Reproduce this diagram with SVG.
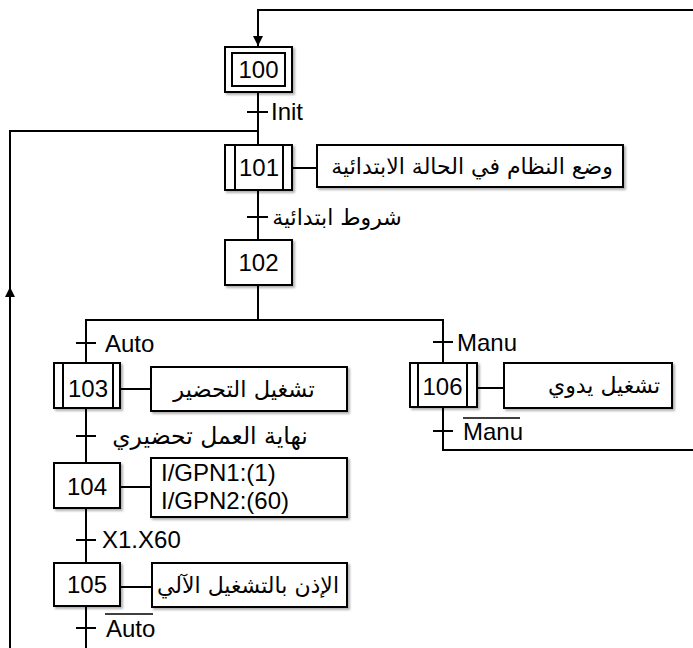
<svg xmlns="http://www.w3.org/2000/svg" width="693" height="648" viewBox="0 0 693 648">
<defs>
<filter id="sh" x="-10%" y="-10%" width="130%" height="140%"><feDropShadow dx="2" dy="2" stdDeviation="1.2" flood-color="#000" flood-opacity="0.3"/></filter>
<marker id="ar" viewBox="0 0 10 10" refX="10" refY="5" markerWidth="12" markerHeight="10" markerUnits="userSpaceOnUse" orient="auto"><path d="M0,0 L10,5 L0,10 z" fill="#000"/></marker>
</defs>
<style>
.b{fill:#fff;stroke:#000;stroke-width:2;filter:url(#sh)}
.l{fill:none;stroke:#000;stroke-width:2}
.t{font-family:"Liberation Sans","DejaVu Sans",sans-serif;font-size:24px;fill:#000}
.a{font-family:"DejaVu Sans","Liberation Sans",sans-serif;font-size:22px;fill:#000}
.o{stroke:#000;stroke-width:1.5}
</style>
<rect width="693" height="648" fill="#fff"/>
<g id="connectors">
<polyline class="l" points="693,10 258,10 258,46" marker-end="url(#ar)"/>
<line class="l" x1="258" y1="92" x2="258" y2="145"/>
<polyline class="l" points="258,131 10,131 10,648"/>
<line class="l" x1="10" y1="300" x2="10" y2="287" marker-end="url(#ar)"/>
<line class="l" x1="258" y1="190" x2="258" y2="240"/>
<polyline class="l" points="258,285 258,320"/>
<polyline class="l" points="86,363 86,320 443,320 443,363"/>
<line class="l" x1="86" y1="408" x2="86" y2="463"/>
<line class="l" x1="86" y1="508" x2="86" y2="563"/>
<line class="l" x1="86" y1="606" x2="86" y2="648"/>
<polyline class="l" points="443,407 443,450 693,450"/>
<line class="l" x1="292" y1="168" x2="317" y2="168"/>
<line class="l" x1="120" y1="389" x2="151" y2="389"/>
<line class="l" x1="120" y1="487" x2="151" y2="487"/>
<line class="l" x1="120" y1="587" x2="152" y2="587"/>
<line class="l" x1="477" y1="388" x2="504" y2="388"/>
</g>
<g id="transitions">
<line class="l" x1="247" y1="112" x2="268" y2="112"/>
<text class="t" x="271" y="120">Init</text>
<line class="l" x1="247" y1="217" x2="268" y2="217"/>
<text class="a" x="337" y="225" text-anchor="middle" direction="rtl">شروط ابتدائية</text>
<line class="l" x1="76" y1="343" x2="96" y2="343"/>
<text class="t" x="105" y="352">Auto</text>
<line class="l" x1="76" y1="436" x2="96" y2="436"/>
<text class="a" x="210" y="444" text-anchor="middle" direction="rtl" style="font-size:23.5px">نهاية العمل تحضيري</text>
<line class="l" x1="76" y1="540" x2="96" y2="540"/>
<text class="t" x="102" y="548">X1.X60</text>
<line class="l" x1="76" y1="628" x2="96" y2="628"/>
<text class="t" x="106" y="637">Auto</text>
<line class="o" x1="105" y1="614" x2="153" y2="614"/>
<line class="l" x1="433" y1="342" x2="453" y2="342"/>
<text class="t" x="457" y="351">Manu</text>
<line class="l" x1="433" y1="431" x2="453" y2="431"/>
<text class="t" x="463" y="440">Manu</text>
<line class="o" x1="463" y1="418" x2="520" y2="418"/>
</g>
<g id="s100">
<rect class="b" x="225" y="47" width="67" height="45"/>
<rect class="l" x="232" y="53" width="53" height="33"/>
<text class="t" x="258.5" y="78" text-anchor="middle">100</text>
</g>
<g id="s101">
<rect class="b" x="225" y="145" width="67" height="45"/>
<line class="l" x1="235" y1="145" x2="235" y2="190"/>
<line class="l" x1="283" y1="145" x2="283" y2="190"/>
<text class="t" x="259" y="176" text-anchor="middle">101</text>
</g>
<g id="a101">
<rect class="b" x="317" y="145" width="306" height="42"/>
<text class="a" x="472" y="174" text-anchor="middle" direction="rtl">وضع النظام في الحالة الابتدائية</text>
</g>
<g id="s102">
<rect class="b" x="225" y="240" width="67" height="45"/>
<text class="t" x="258.5" y="271" text-anchor="middle">102</text>
</g>
<g id="s103">
<rect class="b" x="54" y="363" width="66" height="45"/>
<line class="l" x1="63" y1="363" x2="63" y2="408"/>
<line class="l" x1="113" y1="363" x2="113" y2="408"/>
<text class="t" x="88" y="397" text-anchor="middle">103</text>
</g>
<g id="a103">
<rect class="b" x="151" y="367" width="196" height="44"/>
<text class="a" x="244" y="397" text-anchor="middle" direction="rtl" style="font-size:22.5px">تشغيل التحضير</text>
</g>
<g id="s104">
<rect class="b" x="54" y="463" width="66" height="45"/>
<text class="t" x="87" y="495" text-anchor="middle">104</text>
</g>
<g id="a104">
<rect class="b" x="151" y="458" width="196" height="59"/>
<text class="t" x="161" y="481">I/GPN1:(1)</text>
<text class="t" x="161" y="509">I/GPN2:(60)</text>
</g>
<g id="s105">
<rect class="b" x="54" y="563" width="66" height="43"/>
<text class="t" x="87" y="593" text-anchor="middle">105</text>
</g>
<g id="a105">
<rect class="b" x="152" y="563" width="195" height="44"/>
<text class="a" x="248" y="593" text-anchor="middle" direction="rtl">الإذن بالتشغيل الآلي</text>
</g>
<g id="s106">
<rect class="b" x="410" y="363" width="67" height="44"/>
<line class="l" x1="418" y1="363" x2="418" y2="407"/>
<line class="l" x1="467" y1="363" x2="467" y2="407"/>
<text class="t" x="442.5" y="395" text-anchor="middle">106</text>
</g>
<g id="a106">
<rect class="b" x="504" y="363" width="168" height="45"/>
<text class="a" x="604" y="393" text-anchor="middle" direction="rtl">تشغيل يدوي</text>
</g>
</svg>
